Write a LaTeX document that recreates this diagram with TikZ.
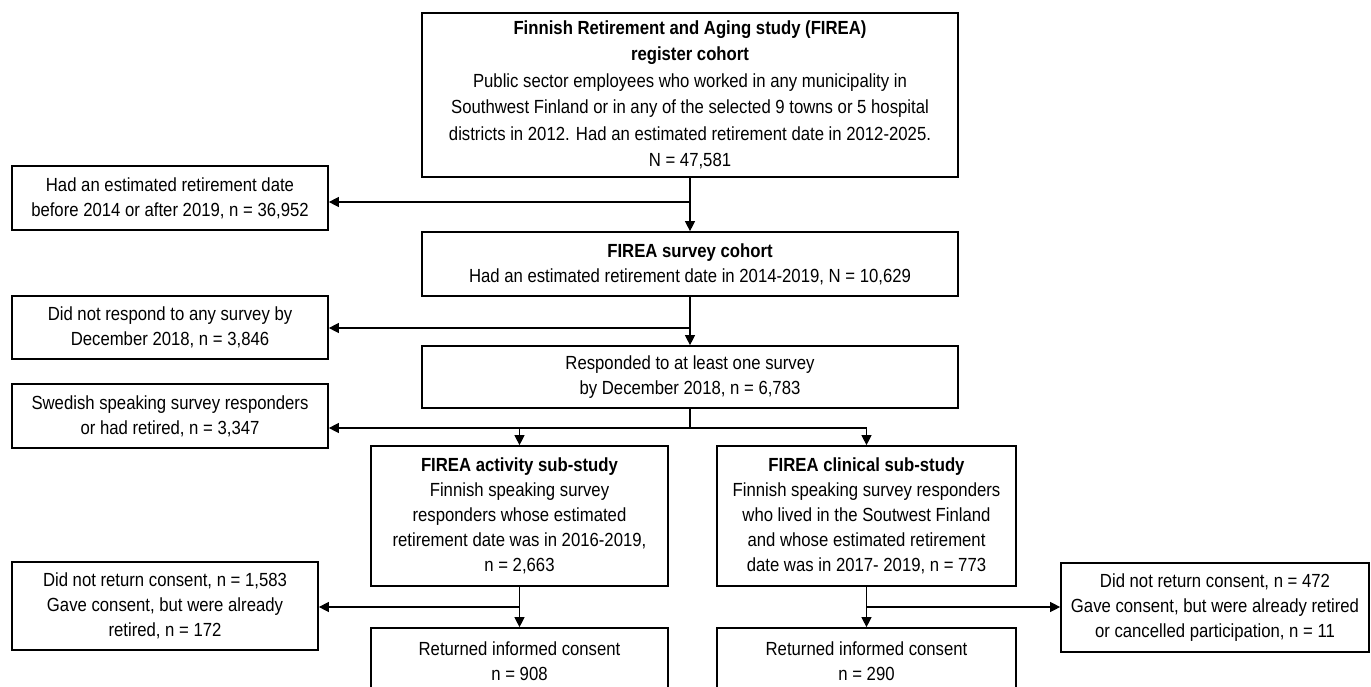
\documentclass[tikz,border=0pt]{standalone}
\usepackage{fontspec}
\setmainfont{Liberation Sans}[FakeStretch=0.88]
\usetikzlibrary{arrows.meta}
\begin{document}
\begin{tikzpicture}[x=1pt,y=-1pt,
  box/.style={draw=black, line width=1.7pt, align=center, inner sep=0pt,
    font=\fontsize{19}{25}\selectfont},
  conn/.style={draw=black, line width=1.2pt},
  arr/.style={conn, -{Triangle[length=10pt,width=10pt]}}
]
\useasboundingbox (0,0) rectangle (1371,686);
\clip (0,0) rectangle (1371,686);
\fill[white] (0,0) rectangle (1371,686);

\node[box, minimum width=536pt, minimum height=164pt, font=\fontsize{19}{26.5}\selectfont] (top) at (690,95)
  {\textbf{Finnish Retirement and Aging study (FIREA)}\\
   \textbf{register cohort}\\
   Public sector employees who worked in any municipality in\\
   Southwest Finland or in any of the selected 9 towns or 5 hospital\\
   districts in 2012. Had an estimated retirement date in 2012-2025.\\
   N = 47,581};

\node[box, minimum width=316pt, minimum height=64pt] (left1) at (170,198)
  {Had an estimated retirement date\\ before 2014 or after 2019, n = 36,952};

\node[box, minimum width=536pt, minimum height=64pt] (survey) at (690,264)
  {\textbf{FIREA survey cohort}\\ Had an estimated retirement date in 2014-2019, N = 10,629};

\node[box, minimum width=316pt, minimum height=63pt] (left2) at (170,327.5)
  {Did not respond to any survey by\\ December 2018, n = 3,846};

\node[box, minimum width=536pt, minimum height=62pt] (resp) at (690,377)
  {Responded to at least one survey\\ by December 2018, n = 6,783};

\node[box, minimum width=316pt, minimum height=64pt] (left3) at (170,416)
  {Swedish speaking survey responders\\ or had retired, n = 3,347};

\node[box, minimum width=297pt, minimum height=140pt] (act) at (519.5,516)
  {\textbf{FIREA activity sub-study}\\ Finnish speaking survey\\ responders whose estimated\\
   retirement date was in 2016-2019,\\ n = 2,663};

\node[box, minimum width=299pt, minimum height=140pt] (clin) at (866.5,516)
  {\textbf{FIREA clinical sub-study}\\ Finnish speaking survey responders\\ who lived in the Soutwest Finland\\
   and whose estimated retirement\\ date was in 2017- 2019, n = 773};

\node[box, minimum width=306pt, minimum height=88pt] (left4) at (165,606)
  {Did not return consent, n = 1,583\\ Gave consent, but were already\\ retired, n = 172};

\node[box, minimum width=308pt, minimum height=89pt] (right5) at (1215,607.5)
  {Did not return consent, n = 472\\ Gave consent, but were already retired\\ or cancelled participation, n = 11};

\node[box, minimum width=297pt, minimum height=66pt] (bot1) at (519.5,661)
  {Returned informed consent\\ n = 908};

\node[box, minimum width=299pt, minimum height=66pt] (bot2) at (866.5,661)
  {Returned informed consent\\ n = 290};

% connectors
\coordinate (j1) at (690,202);
\coordinate (j2) at (690,328);
\coordinate (j3) at (690,428);
\coordinate (j4) at (519.5,607);
\coordinate (j5) at (866.5,607);

\draw[arr] (top.south) -- (survey.north);
\draw[arr] (j1) -- (j1 -| left1.east);
\draw[arr] (survey.south) -- (resp.north);
\draw[arr] (j2) -- (j2 -| left2.east);
\draw[conn] (resp.south) -- (j3);
\draw[arr] (j3) -- (j3 -| left3.east);
\draw[conn] (j3) -- (j3 -| clin.north);
\draw[arr] (j3 -| act.north) -- (act.north);
\draw[arr] (j3 -| clin.north) -- (clin.north);
\draw[arr] (act.south) -- (bot1.north);
\draw[arr] (j4) -- (j4 -| left4.east);
\draw[arr] (clin.south) -- (bot2.north);
\draw[arr] (j5) -- (j5 -| right5.west);
\end{tikzpicture}
\end{document}
